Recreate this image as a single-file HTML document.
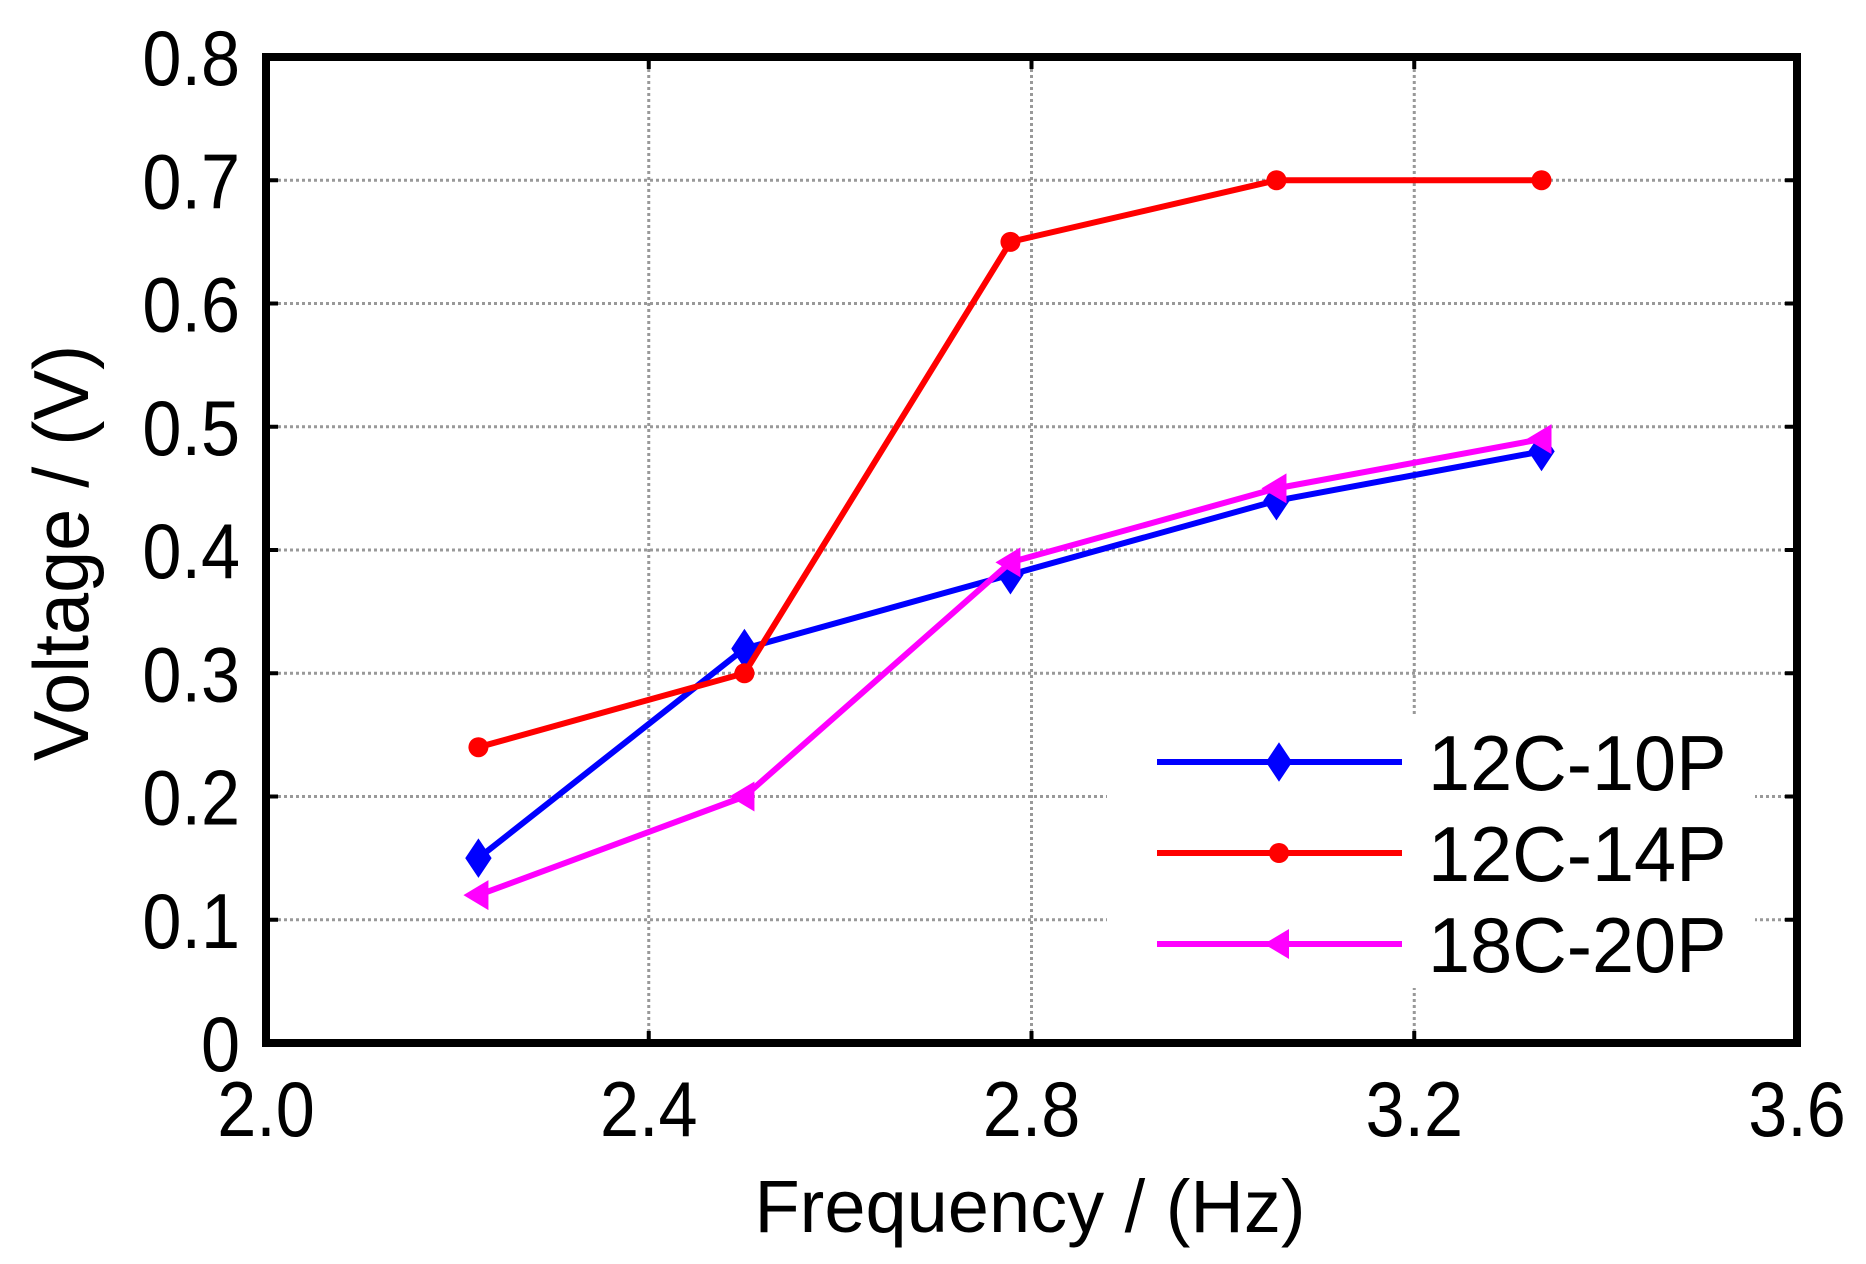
<!DOCTYPE html>
<html><head><meta charset="utf-8"><style>
html,body{margin:0;padding:0;background:#fff;}
svg{display:block;font-family:"Liberation Sans",Arial,sans-serif;}
</style></head><body>
<svg id="chart" width="1866" height="1264" viewBox="0 0 1866 1264">
<g id="grid"></g>
<g id="series"></g>
<g id="legend"></g>
<g id="axes"></g>
<text transform="translate(1030,1232) scale(1,1)" font-size="74" text-anchor="middle">Frequency / (Hz)</text>
<text transform="translate(88,553) rotate(-90) scale(0.97,1)" font-size="78" text-anchor="middle">Voltage / (V)</text>
</svg>
<script>
const freqs = [2.222, 2.5, 2.778, 3.056, 3.333];
const seriesNames = ['12C-10P', '12C-14P', '18C-20P'];
const v12c10p = [0.15, 0.32, 0.38, 0.44, 0.48];
const v12c14p = [0.24, 0.30, 0.65, 0.70, 0.70];
const v18c20p = [0.12, 0.20, 0.39, 0.45, 0.49];
const xTicks = [2.0, 2.4, 2.8, 3.2, 3.6];
const xTickLabels = ['2.0', '2.4', '2.8', '3.2', '3.6'];
const yTicks = [0, 0.1, 0.2, 0.3, 0.4, 0.5, 0.6, 0.7, 0.8];
const yTickLabels = ['0', '0.1', '0.2', '0.3', '0.4', '0.5', '0.6', '0.7', '0.8'];

const L=266,R=1797,T=57,B=1043;
const xs=v=>L+(v-2.0)/1.6*(R-L);
const ys=v=>B-v/0.8*(B-T);
const NS='http://www.w3.org/2000/svg';
function mk(tag,attrs,parent){const e=document.createElementNS(NS,tag);for(const k in attrs)e.setAttribute(k,attrs[k]);parent.appendChild(e);return e;}
const grid=document.getElementById('grid'),axes=document.getElementById('axes'),ser=document.getElementById('series'),leg=document.getElementById('legend');
function txt(x,y,anchor,s,parent,sx){const t=mk('text',{transform:`translate(${x},${y}) scale(${sx||0.9},1)`,'font-size':78,'text-anchor':anchor},parent);t.textContent=s;return t;}

yTicks.forEach((t,i)=>{
  const y=ys(t);
  if(t>0&&t<0.8){const g=mk('line',{x1:L,x2:R,y1:y,y2:y,stroke:'#999','stroke-width':3,'stroke-dasharray':'3 3'},grid);
  
  }
  const tk=mk('path',{d:`M${L},${y}H${L+12}M${R},${y}H${R-12}`,stroke:'#000','stroke-width':4},axes);
  
  
  const lb=txt(240,y+28,'end',yTickLabels[i],axes);
  
  
});
xTicks.forEach((t,i)=>{
  const x=xs(t);
  if(t>2.0&&t<3.6){const g=mk('line',{x1:x,x2:x,y1:T,y2:B,stroke:'#999','stroke-width':3,'stroke-dasharray':'3 3'},grid);
  
  }
  const tk=mk('path',{d:`M${x},${B}V${B-12}M${x},${T}V${T+12}`,stroke:'#000','stroke-width':4},axes);
  
  
  const lb=txt(x,1136,'middle',xTickLabels[i],axes);
  
  
});
const frame=mk('rect',{x:L,y:T,width:R-L,height:B-T,fill:'none',stroke:'#000','stroke-width':8},axes);



function marker(type,x,y,color,parent){
  let e;
  if(type==='diamond') e=mk('path',{d:`M${x},${y-18}L${x+12},${y}L${x},${y+18}L${x-12},${y}Z`,fill:color,stroke:color,'stroke-width':2},parent);
  else if(type==='circle') e=mk('circle',{cx:x,cy:y,r:10,fill:color},parent);
  else e=mk('path',{d:`M${x-15},${y}L${x+10},${y-15}L${x+10},${y+15}Z`,fill:color},parent);
  return e;
}
const defs=[[v12c10p,'#0000ff','diamond'],[v12c14p,'#ff0000','circle'],[v18c20p,'#ff00ff','tri']];
defs.forEach(([vals,color,mt],si)=>{
  const pts=vals.map((v,i)=>xs(freqs[i])+','+ys(v)).join(' ');
  const pl=mk('polyline',{points:pts,fill:'none',stroke:color,'stroke-width':6,'stroke-linejoin':'round'},ser);
  
  
  vals.forEach((v,i)=>{const m=marker(mt,xs(freqs[i]),ys(v),color,ser);
    
    });
});

const bg=mk('rect',{x:1107,y:714,width:648,height:274,fill:'#fff'},leg);


const ly=[762,853,944];
defs.forEach(([vals,color,mt],si)=>{
  const g=mk('g',{},leg);
  
  
  mk('line',{x1:1157,x2:1402,y1:ly[si],y2:ly[si],stroke:color,'stroke-width':6},g);
  marker(mt,1279,ly[si],color,g);
  txt(1428,ly[si]+28,'start',seriesNames[si],g,0.97);
});
</script>
</body></html>
